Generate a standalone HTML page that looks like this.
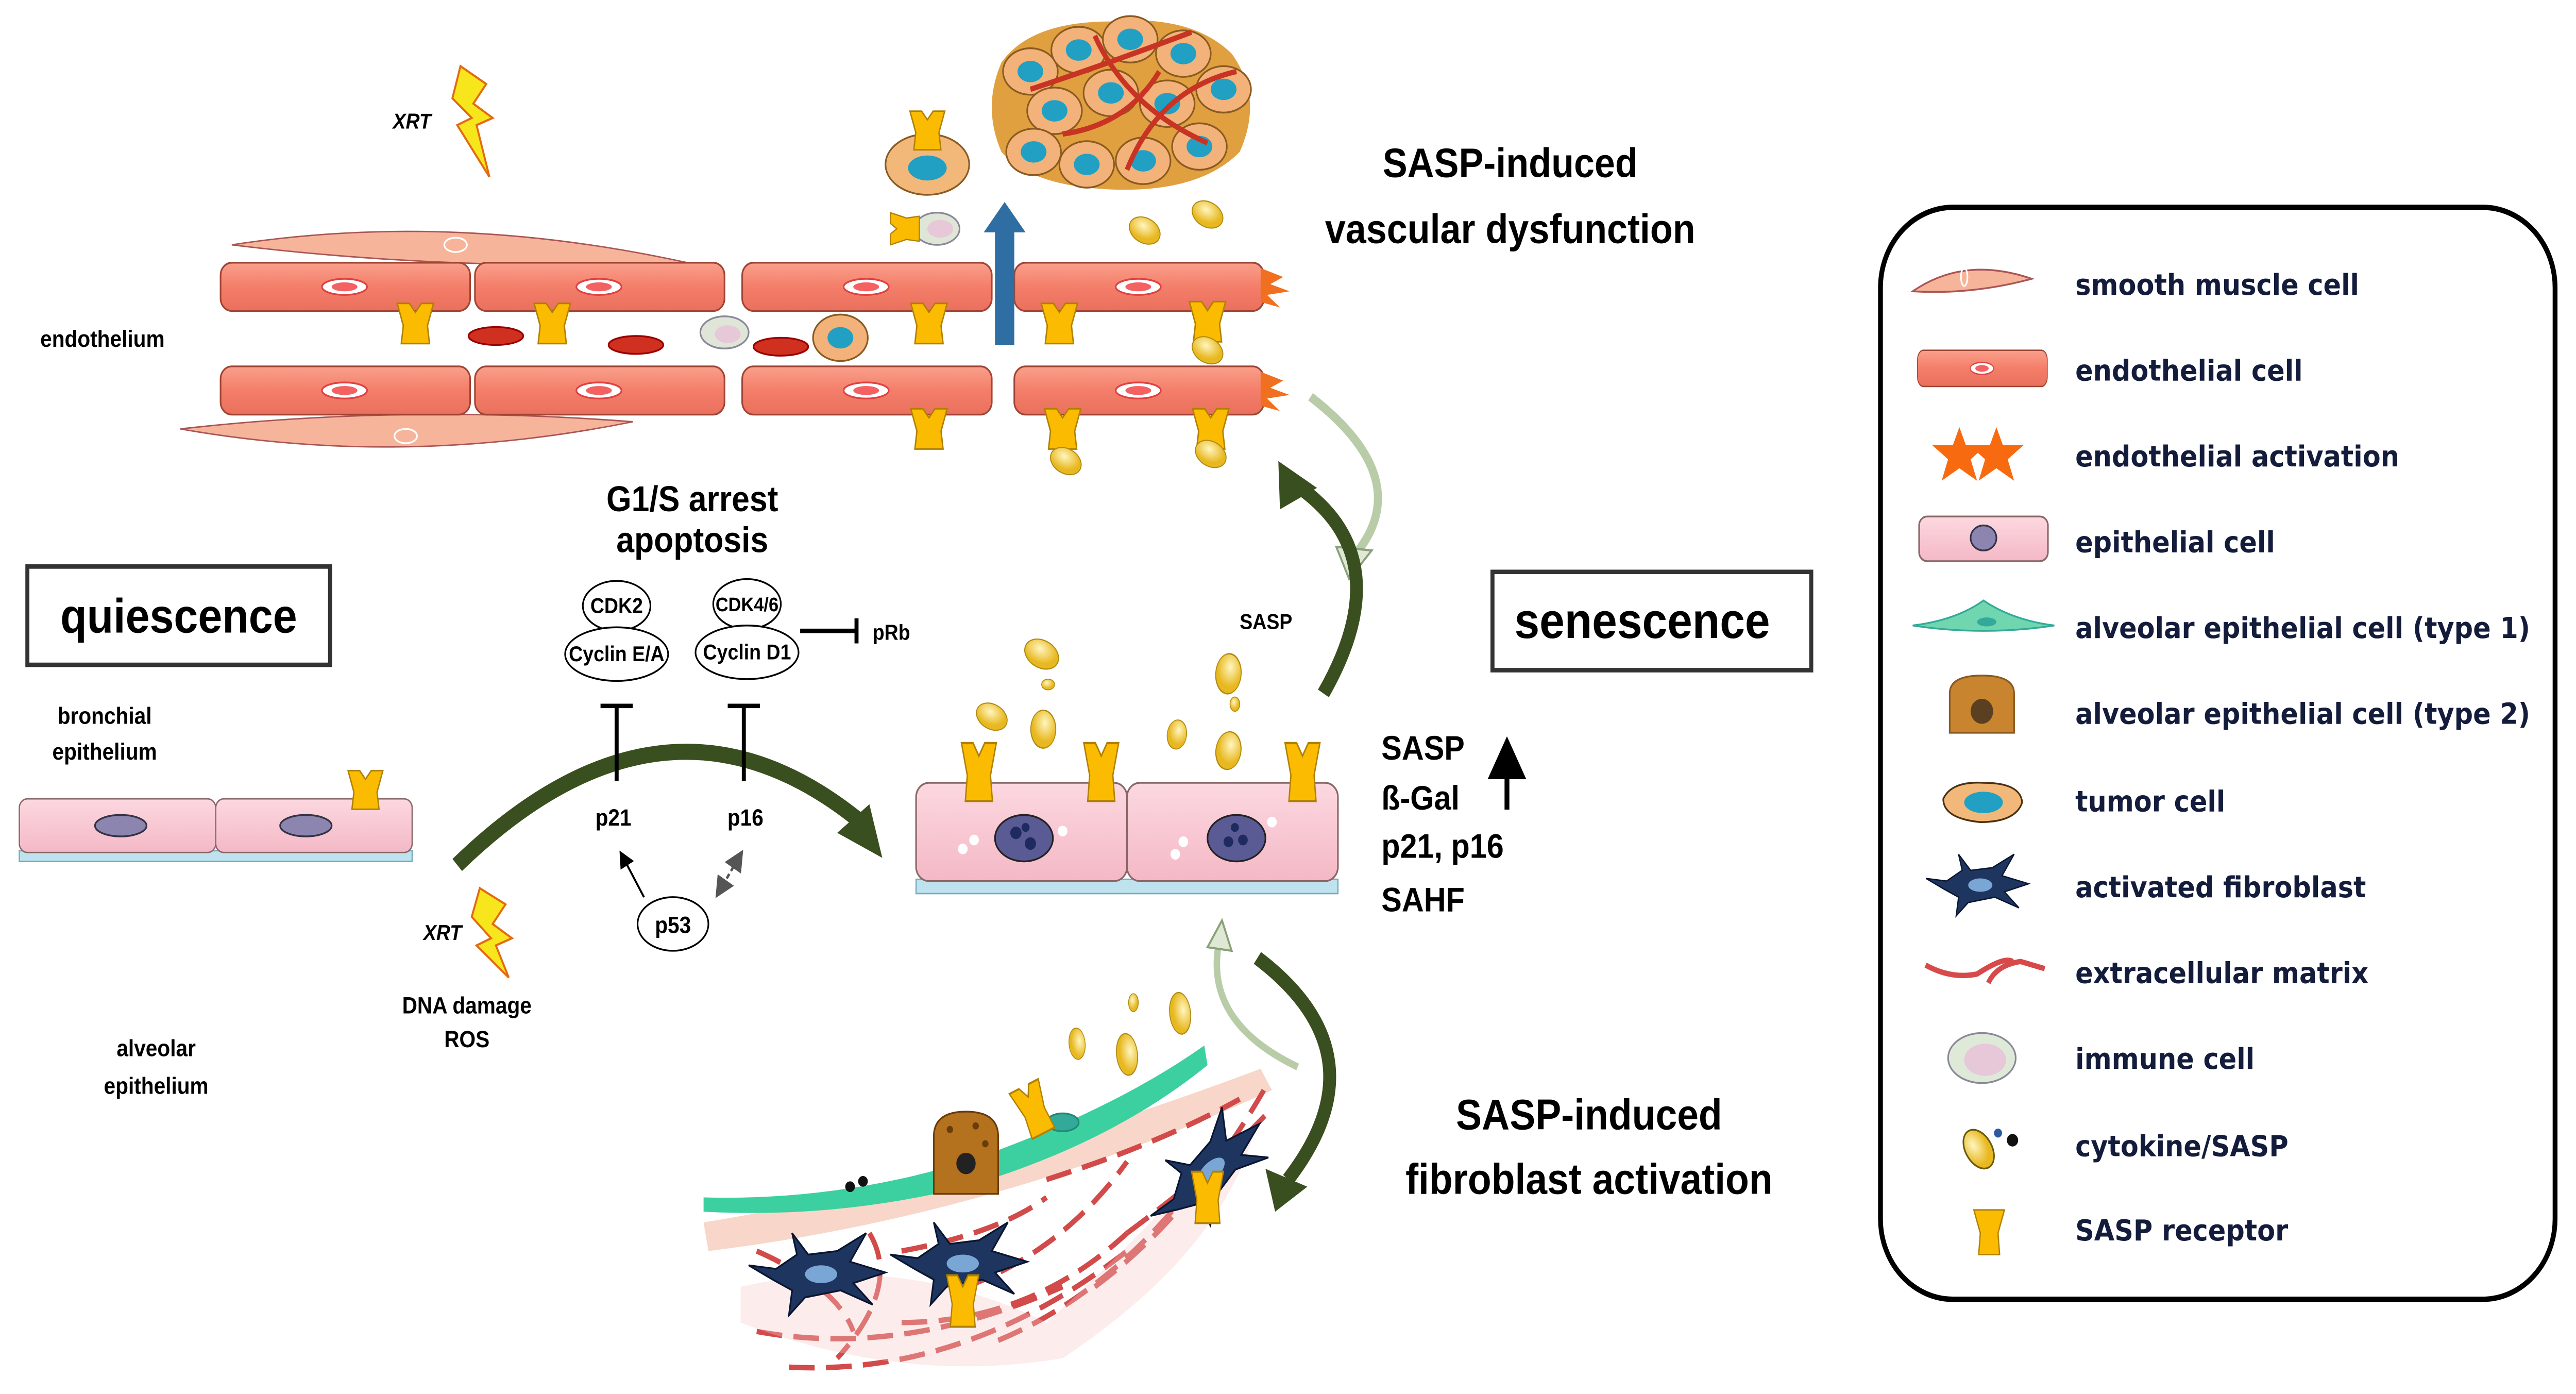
<!DOCTYPE html>
<html><head><meta charset="utf-8"><style>
html,body{margin:0;padding:0;background:#fff;overflow:hidden;width:100%;height:100%;}
svg{display:block;width:100vw;height:100vh;}
text{font-family:"Liberation Sans",Arial,sans-serif;font-weight:bold;}
.lg{font-family:"DejaVu Sans","Liberation Sans",sans-serif;font-size:16.3px;fill:#141c3c;}
</style></head><body>
<svg viewBox="0 0 1600 780" preserveAspectRatio="none" xmlns="http://www.w3.org/2000/svg">
<defs>
<linearGradient id="endo" x1="0" y1="0" x2="0" y2="1"><stop offset="0" stop-color="#f9a08c"/><stop offset="0.5" stop-color="#f47e69"/><stop offset="1" stop-color="#e9705d"/></linearGradient>
<linearGradient id="epi" x1="0" y1="0" x2="0" y2="1"><stop offset="0" stop-color="#fcd8e0"/><stop offset="1" stop-color="#f4b8c6"/></linearGradient>
<radialGradient id="cyt" cx="0.4" cy="0.35"><stop offset="0" stop-color="#fff6c0"/><stop offset="1" stop-color="#e8b820"/></radialGradient>
<marker id="ah" markerWidth="8" markerHeight="8" refX="6" refY="4" orient="auto"><path d="M0,0 L8,4 L0,8 z" fill="#000"/></marker>
<marker id="ahg" markerWidth="8" markerHeight="8" refX="6" refY="4" orient="auto"><path d="M0,0 L8,4 L0,8 z" fill="#555"/></marker>
<marker id="ahs" markerWidth="8" markerHeight="8" refX="2" refY="4" orient="auto"><path d="M8,0 L0,4 L8,8 z" fill="#555"/></marker>
<g id="rec"><path d="M-9,-9 L-3,-9 L0,-5 L3,-9 L9,-9 L6,1 L7,9 L-7,9 L-6,1 z" fill="#fbbb00" stroke="#b08000" stroke-width="0.7"/></g>
<g id="ec"><rect x="0" y="0" width="155" height="27" rx="7" fill="url(#endo)" stroke="#a04434" stroke-width="1"/><ellipse cx="77" cy="13.5" rx="14" ry="4.5" fill="#fff" stroke="#e04040" stroke-width="1"/><ellipse cx="77" cy="13.5" rx="8" ry="2.5" fill="#f56060"/></g>
<g id="cy"><ellipse cx="0" cy="0" rx="10" ry="7" transform="rotate(25)" fill="url(#cyt)" stroke="#b08a10" stroke-width="0.6"/></g>
<g id="fib"><path d="M-30,2 L-45,-6 L-28,-4 L-15,-12 L-18,-24 L-8,-12 L10,-14 L28,-24 L18,-8 L40,-2 L20,4 L32,16 L12,8 L-10,12 L-20,22 L-18,8 z" fill="#1e3560" stroke="#0a1530"/><ellipse cx="0" cy="-1" rx="10" ry="5" fill="#7aa6d6"/></g>
<g id="tc"><ellipse cx="0" cy="0" rx="17" ry="13" fill="#f2b27a" stroke="#8a5a20"/><ellipse cx="0" cy="0" rx="8" ry="6" fill="#22a0c4"/></g>
</defs>

<path d="M144,137 Q280,118 427,147 Q280,152 144,137 z" fill="#f6b49a" stroke="#a55" stroke-width="0.8"/><ellipse cx="283" cy="137" rx="7" ry="4" fill="none" stroke="#fff"/>
<path d="M112,240 Q250,226 393,236 Q250,262 112,240 z" fill="#f6b49a" stroke="#a55" stroke-width="0.8"/><ellipse cx="252" cy="244" rx="7" ry="4" fill="none" stroke="#fff"/>
<use href="#ec" x="137" y="147"/><use href="#ec" x="295" y="147"/><use href="#ec" x="461" y="147"/><use href="#ec" x="630" y="147"/>
<use href="#ec" x="137" y="205"/><use href="#ec" x="295" y="205"/><use href="#ec" x="461" y="205"/><use href="#ec" x="630" y="205"/>
<g transform="translate(258,181) scale(1.25)"><use href="#rec"/></g>
<g transform="translate(343,181) scale(1.25)"><use href="#rec"/></g>
<g transform="translate(577,181) scale(1.25)"><use href="#rec"/></g>
<g transform="translate(658,181) scale(1.25)"><use href="#rec"/></g>
<g transform="translate(750,180) scale(1.25)"><use href="#rec"/></g>
<g transform="translate(577,240) scale(1.25)"><use href="#rec"/></g>
<g transform="translate(660,240) scale(1.25)"><use href="#rec"/></g>
<g transform="translate(752,240) scale(1.25)"><use href="#rec"/></g>
<ellipse cx="308" cy="188" rx="17" ry="5" fill="#d03020" stroke="#900"/><ellipse cx="395" cy="193" rx="17" ry="5" fill="#d03020" stroke="#900"/><ellipse cx="485" cy="194" rx="17" ry="5" fill="#d03020" stroke="#900"/>
<ellipse cx="450" cy="186" rx="15" ry="9" fill="#dfe6d8" stroke="#889"/><ellipse cx="452" cy="187" rx="8" ry="5" fill="#e6c8d8"/>
<use href="#tc" x="522" y="189"/>
<path d="M783,150 l14,5 l-8,4 l12,4 l-14,2 l8,7 l-12,-3 z" fill="#f07020"/>
<path d="M783,208 l14,5 l-8,4 l12,4 l-14,2 l8,7 l-12,-3 z" fill="#f07020"/>
<path d="M618,193 L618,130 L611,130 L624,113 L637,130 L630,130 L630,193 z" fill="#2f6ea3"/>
<path d="M622,35 Q640,12 690,12 Q740,8 765,30 Q785,55 770,85 Q745,108 690,106 Q640,104 622,85 Q610,60 622,35 z" fill="#e0a040"/>
<g>
<use href="#tc" x="640" y="40"/><use href="#tc" x="670" y="28"/><use href="#tc" x="702" y="22"/><use href="#tc" x="735" y="30"/><use href="#tc" x="760" y="50"/>
<use href="#tc" x="655" y="62"/><use href="#tc" x="690" y="52"/><use href="#tc" x="725" y="58"/>
<use href="#tc" x="642" y="85"/><use href="#tc" x="675" y="92"/><use href="#tc" x="710" y="90"/><use href="#tc" x="745" y="82"/></g>
<path d="M640,50 Q690,35 740,18 M680,20 Q700,60 750,80 M700,95 Q720,50 768,40 M660,75 Q700,70 720,40" stroke="#c83424" stroke-width="3" fill="none"/>
<ellipse cx="576" cy="92" rx="26" ry="17" fill="#f2b87a" stroke="#8a5a20"/><ellipse cx="576" cy="94" rx="12" ry="7" fill="#22a0c4"/>
<g transform="translate(576,73) scale(1.2)"><use href="#rec"/></g>
<ellipse cx="582" cy="128" rx="14" ry="9" fill="#dfe6d8" stroke="#889"/><ellipse cx="584" cy="128" rx="8" ry="5" fill="#e6c8d8"/>
<g transform="translate(562,128) rotate(-90) scale(1)"><use href="#rec"/></g>
<use href="#cy" x="711" y="129"/><use href="#cy" x="750" y="120"/><use href="#cy" x="750" y="196"/><use href="#cy" x="662" y="258"/><use href="#cy" x="752" y="254"/>

<path d="M286,37 L302,47 L294,58 L306,66 L296,70 L304,99 L284,70 L293,66 L281,55 z" fill="#f7e61c" stroke="#e36a10" stroke-width="1.2"/>
<text x="244" y="72" font-size="12" font-style="italic">XRT</text>
<path d="M298,497 L314,506 L306,517 L318,525 L308,529 L316,547 L296,529 L305,525 L293,513 z" fill="#f7e61c" stroke="#e36a10" stroke-width="1.2"/>
<text x="263" y="526" font-size="12" font-style="italic">XRT</text>

<text x="938" y="99" font-size="23" text-anchor="middle">SASP-induced</text>
<text x="938" y="136" font-size="23" text-anchor="middle">vascular dysfunction</text>
<text x="987" y="632" font-size="24" text-anchor="middle">SASP-induced</text>
<text x="987" y="668" font-size="24" text-anchor="middle">fibroblast activation</text>
<text x="25" y="194" font-size="13">endothelium</text>

<rect x="17" y="317" width="188" height="55" fill="#fff" stroke="#333" stroke-width="2.5"/>
<text x="111" y="354" font-size="27" text-anchor="middle">quiescence</text>
<rect x="927" y="320" width="198" height="55" fill="#fff" stroke="#333" stroke-width="2.5"/>
<text x="1020" y="357" font-size="28" text-anchor="middle">senescence</text>

<text x="430" y="286" font-size="20" text-anchor="middle">G1/S arrest</text>
<text x="430" y="309" font-size="20" text-anchor="middle">apoptosis</text>
<g fill="#fff" stroke="#000" stroke-width="1">
<ellipse cx="383" cy="339" rx="21" ry="14"/><ellipse cx="383" cy="366" rx="32" ry="15"/>
<ellipse cx="464" cy="338" rx="21" ry="14"/><ellipse cx="464" cy="365" rx="32" ry="15"/>
<ellipse cx="418" cy="517" rx="22" ry="15"/></g>
<g font-size="12" text-anchor="middle"><text x="383" y="343" font-weight="normal">CDK2</text><text x="383" y="370" font-weight="normal">Cyclin E/A</text><text x="464" y="342" font-weight="normal" font-size="11">CDK4/6</text><text x="464" y="369" font-weight="normal">Cyclin D1</text><text x="418" y="522" font-weight="normal" font-size="13">p53</text></g>
<path d="M497,353 L532,353 M532,346 L532,360" stroke="#000" stroke-width="2.5"/>
<text x="542" y="358" font-size="12">pRb</text>
<path d="M284,484 Q412,372 532,458" stroke="#3a4f1f" stroke-width="9" fill="none"/>
<path d="M520,466 L548,480 L540,450 z" fill="#3a4f1f"/>
<path d="M383,437 L383,395 M373,395 L393,395 M462,437 L462,395 M452,395 L472,395" stroke="#000" stroke-width="2.5"/>
<text x="381" y="462" font-size="13" text-anchor="middle">p21</text><text x="463" y="462" font-size="13" text-anchor="middle">p16</text>
<path d="M400,502 L386,478" stroke="#000" stroke-width="1.2" marker-end="url(#ah)"/>
<path d="M446,500 L460,478" stroke="#555" stroke-width="1.5" stroke-dasharray="3,2" marker-end="url(#ahg)" marker-start="url(#ahs)"/>
<text x="290" y="567" font-size="13" text-anchor="middle" font-weight="normal">DNA damage</text>
<text x="290" y="586" font-size="13" text-anchor="middle" font-weight="normal">ROS</text>

<path d="M814,222 Q880,268 842,310" stroke="#b8cca8" stroke-width="5" fill="none"/>
<path d="M830,306 L838,324 L852,308 z" fill="#dfe8d4" stroke="#8aa078" stroke-width="1.2"/>
<path d="M822,388 Q870,312 806,272" stroke="#3a4f1f" stroke-width="8" fill="none"/>
<path d="M794,258 L795,285 L818,273 z" fill="#3a4f1f"/>
<text x="770" y="352" font-size="12" font-weight="normal">SASP</text>
<path d="M806,597 Q748,572 757,528" stroke="#b8cca8" stroke-width="4" fill="none"/>
<path d="M750,530 L759,515 L765,532 z" fill="#dfe8d4" stroke="#8aa078" stroke-width="1.2"/>
<path d="M781,536 Q860,590 800,660" stroke="#3a4f1f" stroke-width="8" fill="none"/>
<path d="M786,654 L792,678 L812,664 z" fill="#3a4f1f"/>

<text x="65" y="405" font-size="13" text-anchor="middle">bronchial</text>
<text x="65" y="425" font-size="13" text-anchor="middle">epithelium</text>
<rect x="12" y="476" width="244" height="6" fill="#bfe3ee" stroke="#7ab" stroke-width="0.8"/>
<rect x="12" y="447" width="122" height="30" rx="5" fill="url(#epi)" stroke="#866" stroke-width="0.8"/>
<rect x="134" y="447" width="122" height="30" rx="5" fill="url(#epi)" stroke="#866" stroke-width="0.8"/>
<ellipse cx="75" cy="462" rx="16" ry="6" fill="#8c85b0" stroke="#334"/><ellipse cx="190" cy="462" rx="16" ry="6" fill="#8c85b0" stroke="#334"/>
<g transform="translate(227,442) scale(1.2)"><use href="#rec"/></g>
<text x="97" y="591" font-size="13" text-anchor="middle">alveolar</text>
<text x="97" y="612" font-size="13" text-anchor="middle">epithelium</text>

<rect x="569" y="492" width="262" height="8" fill="#bfe3ee" stroke="#7ab" stroke-width="0.8"/>
<rect x="569" y="438" width="131" height="55" rx="8" fill="url(#epi)" stroke="#866"/>
<rect x="700" y="438" width="131" height="55" rx="8" fill="url(#epi)" stroke="#866"/>
<ellipse cx="636" cy="469" rx="18" ry="13" fill="#5a5a95" stroke="#222"/><ellipse cx="768" cy="469" rx="18" ry="13" fill="#5a5a95" stroke="#222"/>
<g fill="#1e2a60"><circle cx="631" cy="466" r="3.5"/><circle cx="640" cy="472" r="3.5"/><circle cx="637" cy="463" r="2.5"/><circle cx="763" cy="471" r="3"/><circle cx="772" cy="470" r="3"/><circle cx="767" cy="463" r="2.5"/></g>
<g fill="#fff"><circle cx="598" cy="475" r="3"/><circle cx="605" cy="470" r="3"/><circle cx="660" cy="465" r="3"/><circle cx="730" cy="478" r="3"/><circle cx="735" cy="471" r="3"/><circle cx="790" cy="460" r="3"/></g>
<g transform="translate(608,432) scale(1.2,1.8)"><use href="#rec"/></g>
<g transform="translate(684,432) scale(1.2,1.8)"><use href="#rec"/></g>
<g transform="translate(809,432) scale(1.2,1.8)"><use href="#rec"/></g>
<g transform="translate(647,366) scale(1.1)"><use href="#cy"/></g><ellipse cx="651" cy="383" rx="4" ry="3" fill="url(#cyt)" stroke="#b08a10" stroke-width="0.5"/>
<use href="#cy" x="616" y="401"/><g transform="translate(648,408) rotate(30) scale(0.9,1.3)"><use href="#cy"/></g>
<g transform="translate(763,377) rotate(30) scale(0.9,1.4)"><use href="#cy"/></g><ellipse cx="767" cy="394" rx="3" ry="4" fill="url(#cyt)" stroke="#b08a10" stroke-width="0.5"/>
<g transform="translate(731,411) rotate(40) scale(0.7,1)"><use href="#cy"/></g><g transform="translate(763,420) rotate(40) scale(0.9,1.3)"><use href="#cy"/></g>
<text x="858" y="425" font-size="19">SASP</text>
<text x="858" y="453" font-size="19">ß-Gal</text>
<text x="858" y="480" font-size="19">p21, p16</text>
<text x="858" y="510" font-size="19">SAHF</text>
<path d="M936,453 L936,418" stroke="#000" stroke-width="3" marker-end="url(#ah)"/>

<path d="M437,684 Q600,660 783,598 L790,610 Q620,680 440,700 z" fill="#f7cfc0" opacity="0.85"/>
<path d="M437,670 Q520,672 600,650 Q690,622 748,585 L750,596 Q690,640 600,664 Q520,682 437,678 z" fill="#3cd0a0"/>
<ellipse cx="660" cy="628" rx="10" ry="5" fill="#3a9" stroke="#287"/>
<g stroke="#d24a4a" stroke-width="3" fill="none" stroke-dasharray="16,7">
<path d="M470,700 Q520,720 530,745"/><path d="M540,690 Q560,720 520,760"/><path d="M560,700 Q620,690 650,670"/><path d="M600,720 Q660,700 700,650"/>
<path d="M470,745 Q560,760 660,720"/><path d="M490,765 Q600,770 700,700"/><path d="M620,750 Q700,720 760,640"/><path d="M680,720 Q740,680 785,610"/>
<path d="M650,660 Q720,640 770,615"/><path d="M700,690 Q760,650 790,620"/><path d="M560,740 Q640,740 700,690"/></g>
<path d="M460,720 Q560,700 650,740 Q700,700 760,640 L780,630 Q760,700 660,760 Q560,775 460,740 z" fill="#f5c8c8" opacity="0.35"/>
<use href="#fib" x="510" y="714"/><use href="#fib" x="598" y="708"/><g transform="translate(753,656) rotate(-40)"><use href="#fib"/></g>
<g transform="translate(598,728) scale(1.1,1.6)"><use href="#rec"/></g>
<g transform="translate(750,670) scale(1.1,1.6)"><use href="#rec"/></g>
<g transform="translate(642,621) rotate(-25) scale(1.1,1.6)"><use href="#rec"/></g>
<path d="M580,668 L580,636 Q580,622 600,622 Q620,622 620,636 L620,668 z" fill="#b5721e" stroke="#6a3c0a"/><circle cx="600" cy="651" r="6" fill="#222"/>
<g fill="#6a3c0a"><circle cx="590" cy="632" r="2"/><circle cx="606" cy="630" r="2"/><circle cx="612" cy="640" r="2"/></g>
<circle cx="528" cy="664" r="3" fill="#111"/><circle cx="536" cy="661" r="3" fill="#111"/>
<ellipse cx="704" cy="561" rx="3" ry="5" fill="url(#cyt)" stroke="#b08a10" stroke-width="0.5"/>
<g transform="translate(733,567) rotate(70) scale(1.2,0.9)"><use href="#cy"/></g>
<g transform="translate(669,584) rotate(70) scale(0.9,0.7)"><use href="#cy"/></g>
<g transform="translate(700,590) rotate(70) scale(1.2,0.9)"><use href="#cy"/></g>

<rect x="1168" y="116" width="419" height="611" rx="45" fill="#fff" stroke="#000" stroke-width="3"/>
<path d="M1188,163 Q1220,143 1262,156 Q1225,165 1188,163 z" fill="#f6b49a" stroke="#a55"/><ellipse cx="1220" cy="155" rx="2" ry="5" fill="none" stroke="#fff"/>
<g transform="translate(1191,196) scale(0.52,0.75)"><use href="#ec"/></g>
<path d="M1217,239 l4,10 l13,0 l-10,8 l4,12 l-11,-7 l-11,7 l4,-12 l-10,-8 l13,0 z" fill="#f76a10"/>
<path d="M1240,239 l4,10 l13,0 l-10,8 l4,12 l-11,-7 l-11,7 l4,-12 l-10,-8 l13,0 z" fill="#f76a10"/>
<rect x="1192" y="289" width="80" height="25" rx="5" fill="url(#epi)" stroke="#866"/><ellipse cx="1232" cy="301" rx="8" ry="7" fill="#8c85b0" stroke="#334"/>
<path d="M1188,350 Q1215,347 1232,336 Q1250,347 1276,350 Q1232,356 1188,350 z" fill="#6fd6b0" stroke="#3a9"/><ellipse cx="1234" cy="348" rx="6" ry="2.5" fill="#3a9"/>
<path d="M1211,410 L1211,388 Q1211,378 1231,378 Q1251,378 1251,388 L1251,410 z" fill="#c8842e" stroke="#8a5a20"/><circle cx="1231" cy="398" r="7" fill="#5a4020"/>
<path d="M1207,447 Q1212,437 1232,438 Q1255,438 1256,449 Q1252,460 1230,460 Q1207,458 1207,447 z" fill="#f2b87a" stroke="#4a3010"/><ellipse cx="1232" cy="449" rx="12" ry="6" fill="#22a0c4"/>
<g transform="translate(1230,496) scale(0.75)"><use href="#fib"/></g>
<path d="M1196,540 Q1212,548 1228,545 Q1245,535 1250,538 M1235,550 Q1240,540 1255,538 L1270,542" stroke="#d84a4a" stroke-width="3" fill="none"/>
<ellipse cx="1231" cy="592" rx="21" ry="14" fill="#dfe9d8" stroke="#889"/><ellipse cx="1233" cy="593" rx="13" ry="9" fill="#e6c8d8"/>
<ellipse cx="1229" cy="643" rx="8" ry="12" transform="rotate(-35 1229 643)" fill="url(#cyt)" stroke="#6a5a10"/><circle cx="1241" cy="634" r="2.5" fill="#2a5aa0"/><circle cx="1250" cy="638" r="3.5" fill="#111"/>
<path d="M1226,677 L1245,677 L1241,690 L1242,702 L1229,702 L1230,690 z" fill="#fbbb00" stroke="#b08000" stroke-width="0.8"/>
<text class="lg" x="1289" y="165">smooth muscle cell</text>
<text class="lg" x="1289" y="213">endothelial cell</text>
<text class="lg" x="1289" y="261">endothelial activation</text>
<text class="lg" x="1289" y="309">epithelial cell</text>
<text class="lg" x="1289" y="357">alveolar epithelial cell (type 1)</text>
<text class="lg" x="1289" y="405">alveolar epithelial cell (type 2)</text>
<text class="lg" x="1289" y="454">tumor cell</text>
<text class="lg" x="1289" y="502">activated fibroblast</text>
<text class="lg" x="1289" y="550">extracellular matrix</text>
<text class="lg" x="1289" y="598">immune cell</text>
<text class="lg" x="1289" y="647">cytokine/SASP</text>
<text class="lg" x="1289" y="694">SASP receptor</text>
</svg>
</body></html>
